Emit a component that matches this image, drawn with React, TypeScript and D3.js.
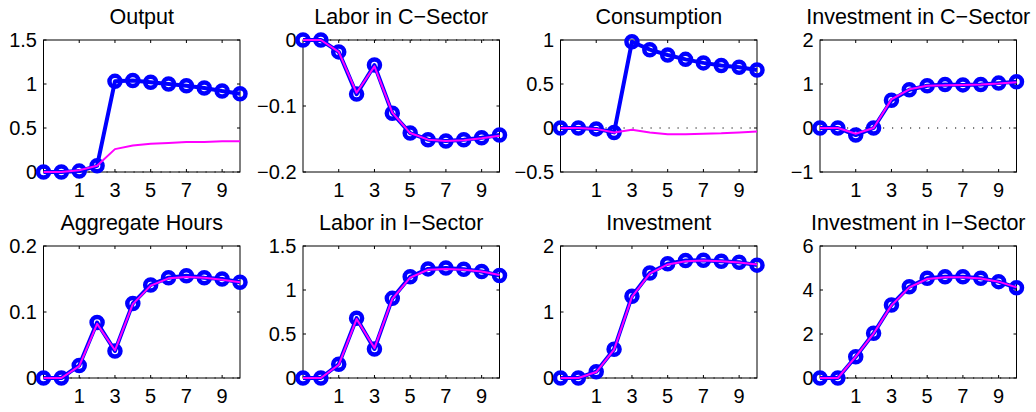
import React from "react";
import * as d3 from "d3";

const periods = [-1, 0, 1, 2, 3, 4, 5, 6, 7, 8, 9, 10];
const xTickValues = [1, 3, 5, 7, 9];

const titles = [
  "Output", "Labor in C\u2212Sector", "Consumption", "Investment in C\u2212Sector",
  "Aggregate Hours", "Labor in I\u2212Sector", "Investment", "Investment in I\u2212Sector",
];

const yDomains: [number, number][] = [
  [0, 1.5], [-0.2, 0], [-0.5, 1], [-1, 2],
  [0, 0.2], [0, 1.5], [0, 2], [0, 6],
];

const yTickValues = [
  [0, 0.5, 1, 1.5], [-0.2, -0.1, 0], [-0.5, 0, 0.5, 1], [-1, 0, 1, 2],
  [0, 0.1, 0.2], [0, 0.5, 1, 1.5], [0, 1, 2], [0, 2, 4, 6],
];

// blue (circles) series
const outputBlue = [0, 0, 0.01, 0.07, 1.03, 1.04, 1.02, 1.0, 0.98, 0.955, 0.92, 0.89];
const laborCBlue = [0, 0, -0.018, -0.082, -0.038, -0.111, -0.141, -0.151, -0.153, -0.151, -0.148, -0.144];
const consBlue = [0, 0, -0.01, -0.05, 0.98, 0.89, 0.83, 0.78, 0.74, 0.71, 0.69, 0.66];
const invCBlue = [0, 0, -0.16, 0, 0.63, 0.87, 0.96, 0.99, 0.98, 0.99, 1.02, 1.05];
const hoursBlue = [0, 0, 0.019, 0.084, 0.041, 0.113, 0.141, 0.152, 0.155, 0.152, 0.15, 0.145];
const laborIBlue = [0, 0, 0.156, 0.68, 0.33, 0.905, 1.15, 1.24, 1.25, 1.235, 1.21, 1.165];
const invBlue = [0, 0, 0.095, 0.435, 1.24, 1.59, 1.73, 1.78, 1.785, 1.77, 1.755, 1.71];
const invIBlue = [0, 0, 0.97, 2.03, 3.32, 4.15, 4.53, 4.6, 4.6, 4.53, 4.38, 4.1];

// magenta series
const outputMag = [0, 0, 0.02, 0.07, 0.26, 0.3, 0.32, 0.33, 0.34, 0.34, 0.35, 0.35];
const laborCMag = [0, 0, -0.018, -0.08, -0.04, -0.11, -0.141, -0.151, -0.153, -0.152, -0.149, -0.145];
const consMag = [0, 0, -0.01, -0.05, -0.02, -0.05, -0.07, -0.07, -0.065, -0.06, -0.05, -0.04];
const invCMag = [0, 0, -0.13, 0, 0.65, 0.88, 0.96, 0.97, 0.98, 0.99, 1.01, 1.04];
const hoursMag = [0, 0, 0.018, 0.082, 0.042, 0.112, 0.14, 0.151, 0.153, 0.152, 0.149, 0.145];
const laborIMag = [0, 0, 0.15, 0.67, 0.34, 0.9, 1.14, 1.23, 1.24, 1.23, 1.21, 1.17];
const invMag = [0, 0, 0.09, 0.43, 1.23, 1.58, 1.72, 1.77, 1.78, 1.77, 1.75, 1.72];
const invIMag = [0, 0, 0.97, 2.02, 3.3, 4.12, 4.5, 4.58, 4.58, 4.52, 4.38, 4.12];

const blueSeries = [outputBlue, laborCBlue, consBlue, invCBlue, hoursBlue, laborIBlue, invBlue, invIBlue];
const magSeries = [outputMag, laborCMag, consMag, invCMag, hoursMag, laborIMag, invMag, invIMag];

const W = 1036;
const H = 412;
const colLefts = [43.5, 303, 560.5, 820];
const rowTops = [40, 246];
const PW = 196.5;
const PH = 132;
const FONT = "'Liberation Sans', Arial, Helvetica, sans-serif";

function fmt(v: number) {
  const s = String(Math.abs(v));
  return v < 0 ? "\u2212" + s : s;
}

function Panel({ i }: { i: number }) {
  const left = colLefts[i % 4];
  const top = rowTops[Math.floor(i / 4)];
  const x = d3.scaleLinear().domain([-1, 10]).range([0, PW]);
  const y = d3.scaleLinear().domain(yDomains[i]).range([PH, 0]);
  const line = d3
    .line<number>()
    .x((_, k) => x(periods[k]))
    .y((d) => y(d));
  const blue = blueSeries[i];
  const mag = magSeries[i];
  const tl = 3;
  return (
    <g transform={`translate(${left},${top})`}>
      <text x={PW / 2} y={-16} textAnchor="middle" fontSize={21.5} fontFamily={FONT} fill="#000">
        {titles[i]}
      </text>
      <rect x={0} y={0} width={PW} height={PH} fill="#fff" stroke="none" />
      {xTickValues.map((t) => (
        <g key={"x" + t}>
          <line x1={x(t)} x2={x(t)} y1={PH} y2={PH - tl} stroke="#000" strokeWidth={1} />
          <line x1={x(t)} x2={x(t)} y1={0} y2={tl} stroke="#000" strokeWidth={1} />
          <text x={x(t)} y={PH + 25} textAnchor="middle" fontSize={20} fontFamily={FONT} fill="#000">
            {t}
          </text>
        </g>
      ))}
      {yTickValues[i].map((t) => (
        <g key={"y" + t}>
          <line x1={0} x2={tl} y1={y(t)} y2={y(t)} stroke="#000" strokeWidth={1} />
          <line x1={PW} x2={PW - tl} y1={y(t)} y2={y(t)} stroke="#000" strokeWidth={1} />
          <text x={-6.5} y={y(t) + 7} textAnchor="end" fontSize={20} fontFamily={FONT} fill="#000">
            {fmt(t)}
          </text>
        </g>
      ))}
      <line x1={0} x2={PW} y1={y(0)} y2={y(0)} stroke="#000" strokeWidth={1.2} strokeDasharray="1.2 7.8" />
      <rect x={0} y={0} width={PW} height={PH} fill="none" stroke="#000" strokeWidth={1} />
      <path d={line(blue) || ""} fill="none" stroke="#0000ff" strokeWidth={4} strokeLinejoin="round" />
      {blue.map((v, k) => (
        <circle key={k} cx={x(periods[k])} cy={y(v)} r={5.5} fill="none" stroke="#0000ff" strokeWidth={4.5} />
      ))}
      <path d={line(mag) || ""} fill="none" stroke="#ff00ff" strokeWidth={2} strokeLinejoin="round" />
    </g>
  );
}

export default function App() {
  return (
    <div style={{ position: "absolute", left: 0, top: 0 }}>
      <svg width={W} height={H} viewBox={`0 0 ${W} ${H}`} style={{ display: "block", background: "#fff" }}>
        <rect x={0} y={0} width={W} height={H} fill="#fff" />
        {titles.map((_, i) => (
          <Panel key={i} i={i} />
        ))}
      </svg>
    </div>
  );
}
